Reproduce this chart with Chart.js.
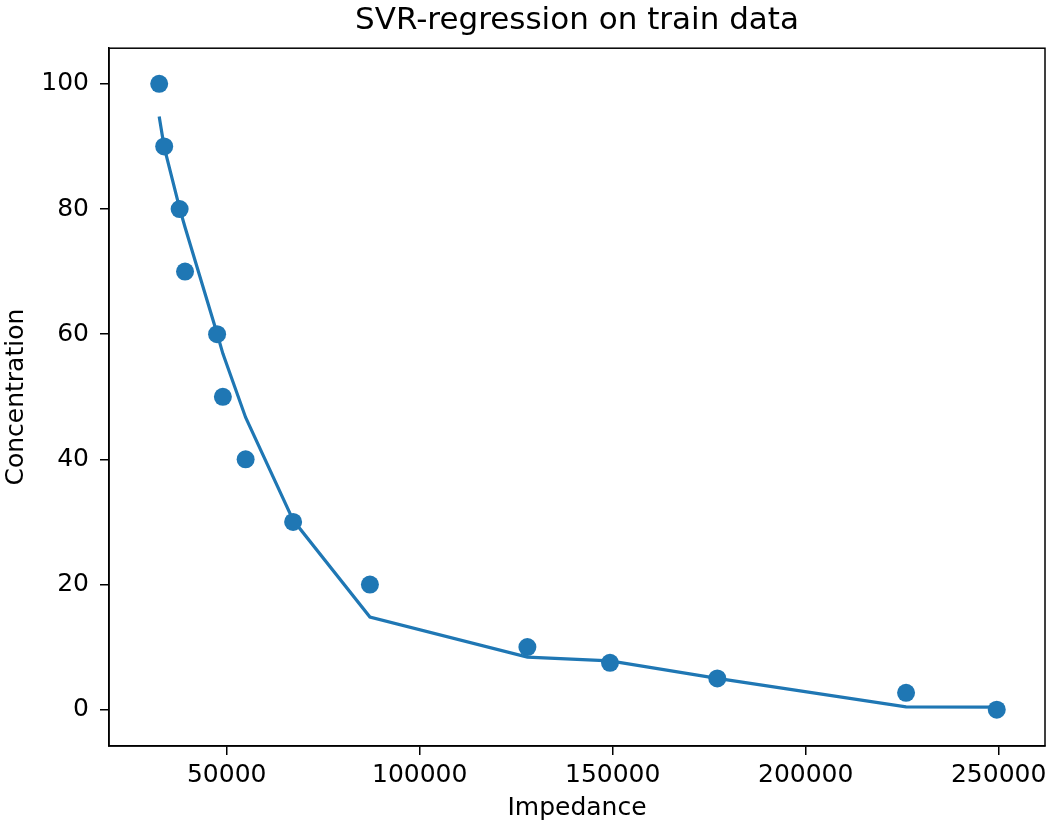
<!DOCTYPE html>
<html>
<head>
<meta charset="utf-8">
<script src="https://cdn.jsdelivr.net/npm/chart.js@4"></script>
<style>
  html, body { margin: 0; padding: 0; background: #fff; overflow: hidden; }
  #wrap { width: 1047px; height: 826px; overflow: hidden; }
</style>
</head>
<body>
<div id="wrap">
<!-- canvas a little wider than the page so the last x label may hang past the frame -->
<canvas id="svrChart" width="1056" height="826"></canvas>
</div>
<script>
// train data
const impedance = [32500, 33800, 37800, 39200, 47500, 49000, 54900, 67200, 87100, 127900, 149300, 177100, 226000, 249500];
const concentration = [100, 90, 80, 70, 60, 50, 40, 30, 20, 10, 7.5, 5, 2.7, 0];
// SVR prediction at the same impedances
const svrPredicted = [94.8, 89.9, 80.1, 77.1, 60.1, 56.9, 46.7, 30.3, 14.8, 8.4, 7.8, 5.0, 0.45, 0.4];

const xTicks = [50000, 100000, 150000, 200000, 250000];
const yTicks = [0, 20, 40, 60, 80, 100];

const blue = '#1f77b4';
const fontFamily = '"DejaVu Sans", sans-serif';

// matplotlib style frame round the plot area
const frameBox = {
    id: 'frameBox',
    afterDraw(chart) {
        const {ctx, chartArea: a} = chart;
        ctx.save();
        ctx.strokeStyle = '#000';
        ctx.lineWidth = 1.5;
        ctx.strokeRect(a.left, a.top, a.right - a.left, a.bottom - a.top);
        ctx.restore();
    }
};

const svrChart = new Chart(document.getElementById('svrChart'), {
    type: 'scatter',
    data: {
        datasets: [
            {
                label: 'train data',
                data: impedance.map((x, i) => ({x: x, y: concentration[i]})),
                backgroundColor: blue,
                borderWidth: 0,
                pointRadius: 9,
                pointHoverRadius: 9,
                showLine: false
            },
            {
                label: 'SVR',
                data: impedance.map((x, i) => ({x: x, y: svrPredicted[i]})),
                borderColor: blue,
                backgroundColor: blue,
                borderWidth: 3.2,
                pointRadius: 0,
                showLine: true,
                tension: 0
            }
        ]
    },
    options: {
        responsive: false,
        animation: false,
        devicePixelRatio: 1,
        layout: { padding: { left: 0, right: 11, top: 0, bottom: 0 } },
        plugins: {
            legend: { display: false },
            tooltip: { enabled: false },
            title: {
                display: true,
                text: 'SVR-regression on train data',
                fullSize: false,
                color: '#000',
                font: { family: fontFamily, size: 31, weight: 'normal' },
                padding: { top: 2, bottom: 9 }
            }
        },
        scales: {
            x: {
                type: 'linear',
                min: 19500,
                max: 262000,
                afterFit(scale) { scale.height = 80; },
                afterBuildTicks(scale) { scale.ticks = xTicks.map(v => ({value: v})); },
                grid: { drawOnChartArea: false, drawTicks: true, tickLength: 9, color: '#000', lineWidth: 1.5 },
                border: { display: true, color: '#000', width: 1.5 },
                ticks: {
                    color: '#000',
                    padding: 5,
                    maxRotation: 0,
                    font: { family: fontFamily, size: 25 },
                    callback: v => String(v)
                },
                title: {
                    display: true,
                    text: 'Impedance',
                    color: '#000',
                    font: { family: fontFamily, size: 25 },
                    padding: { top: 0, bottom: 3 }
                }
            },
            y: {
                type: 'linear',
                min: -5.8,
                max: 105.7,
                afterFit(scale) { scale.width = 109; },
                afterBuildTicks(scale) { scale.ticks = yTicks.map(v => ({value: v})); },
                grid: { drawOnChartArea: false, drawTicks: true, tickLength: 9, color: '#000', lineWidth: 1.5 },
                border: { display: true, color: '#000', width: 1.5 },
                ticks: {
                    color: '#000',
                    padding: 11,
                    font: { family: fontFamily, size: 25 },
                    callback: v => String(v)
                },
                title: {
                    display: true,
                    text: 'Concentration',
                    color: '#000',
                    font: { family: fontFamily, size: 25 },
                    padding: { top: 1, bottom: 0 }
                }
            }
        }
    },
    plugins: [frameBox]
});
</script>
</body>
</html>
